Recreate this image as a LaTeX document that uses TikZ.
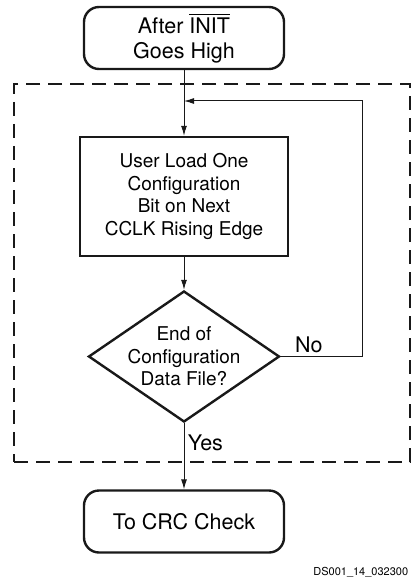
\documentclass[tikz,border=0pt]{standalone}
\usepackage{amsmath}
\usepackage{fontspec}
\setmainfont{TeX Gyre Heros}
\usepackage{tikz}
\usetikzlibrary{arrows.meta}
\usetikzlibrary{shapes.geometric}
\definecolor{trait}{rgb}{0.1,0.1,0.1}

\begin{document}
\begin{tikzpicture}[x=1pt, y=-1pt, ->, >={Latex[length=10pt,width=6pt]}, line width=1pt, draw=trait] % pixel grid, y down
  \tikzstyle{term}=[rectangle, rounded corners=15pt, draw=trait, line width=2.4pt, minimum width=200pt, minimum height=62pt, align=center, font=\fontsize{21.5}{25}\selectfont]
  \tikzstyle{proc}=[rectangle, draw=trait, line width=2.4pt, minimum width=208pt, minimum height=119pt, align=center, font=\fontsize{19}{22.5}\selectfont]
  \tikzstyle{test}=[diamond, draw=trait, line width=2.4pt, minimum width=191pt, minimum height=131pt, inner sep=0pt]
  \tikzstyle{frame}=[rectangle, draw=trait, line width=2.4pt, dash pattern=on 14pt off 8pt, minimum width=396pt, minimum height=378pt]
  \tikzstyle{tag}=[font=\fontsize{21.5}{25}\selectfont]

	\useasboundingbox (0,0) rectangle (412,588);

	\node[frame] (loop) at (212,273) {};
	\node[term] (start) at (184,38) {After $\overline{\text{INIT}}$\\Goes High};
	\node[proc] (load) at (184,196.5) {User Load One\\Configuration\\Bit on Next\\CCLK Rising Edge};
	\node[test, label={[align=center, font=\fontsize{19}{22.5}\selectfont]center:End of\\Configuration\\Data File?}] (endq) at (184,356.5) {};
	\node[term] (crc) at (184,521.5) {To CRC Check};
	\node[anchor=east, font=\fontsize{11}{13}\selectfont] (figid) at (412,572) {DS001\_14\_032300};

	\coordinate (merge) at (184,101);
	\coordinate (turnlo) at (362,356.5);
	\coordinate (turnhi) at (362,101);

	\path
		(start) edge (load)
		(load) edge (endq)
		(endq) edge node[tag, right, pos=0.3] {Yes} (crc)
		;
	\draw (endq.east) -- node[tag, above, pos=0.345] {No} (turnlo) -- (turnhi) -- (merge);

\end{tikzpicture}
\end{document}
